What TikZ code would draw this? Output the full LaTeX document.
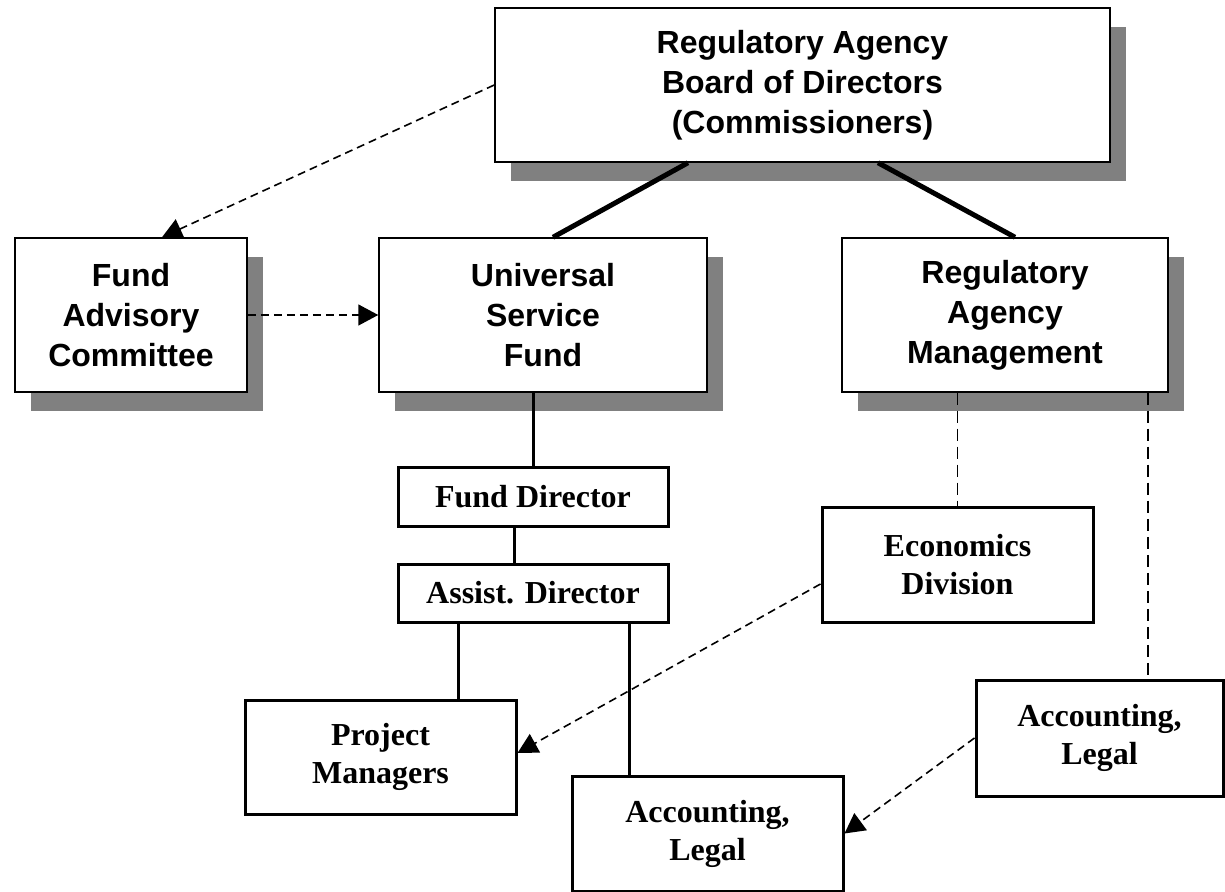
\documentclass[tikz,border=0pt]{standalone}
\usepackage{fontspec}
\setmainfont{Liberation Serif}
\newfontfamily\arialfont{Liberation Sans}
\usetikzlibrary{shapes,arrows.meta,calc,positioning,shadows}
\definecolor{shadowgray}{RGB}{128,128,128}
\tikzstyle{bigbox} = [draw, rectangle, fill=white, line width=0.75pt, align=center, inner sep=0pt, minimum height=77pt, font=\arialfont\bfseries\fontsize{16}{20}\selectfont, drop shadow={shadow xshift=8pt, shadow yshift=-9.5pt, fill=shadowgray, opacity=1}]
\tikzstyle{smallbox} = [draw, rectangle, fill=white, line width=1.5pt, align=center, inner sep=0pt, minimum width=135.5pt, minimum height=57pt, font=\bfseries\fontsize{16}{19}\selectfont]
\tikzstyle{line} = [draw, line width=1.5pt]
\tikzstyle{thickline} = [draw, line width=2.5pt]
\tikzstyle{dashline} = [draw, line width=0.8pt, dash pattern=on 6pt off 3pt]
\tikzstyle{dasharrow} = [draw, line width=0.8pt, dash pattern=on 4pt off 2.5pt, -{Triangle[length=10pt,width=10.5pt]}]

\begin{document}
\begin{tikzpicture}[x=0.5pt, y=-0.5pt]
	\useasboundingbox (0,0) rectangle (1225,892);

	\node [bigbox, minimum width=307.5pt] (board) at (802.5,85) {Regulatory Agency\\Board of Directors\\(Commissioners)};
	\node [bigbox, minimum width=116pt] (fac) at (131,315) {Fund\\Advisory\\Committee};
	\node [bigbox, minimum width=164pt] (usf) at (543,315) {Universal\\Service\\Fund};
	\node [bigbox, minimum width=163pt] (ram) at (1005,315) {Regulatory\\Agency\\Management};

	\node [smallbox, minimum width=135pt, minimum height=29pt] (fd) at (533,497) {Fund Director};
	\node [smallbox, minimum width=135pt, minimum height=29pt, below of=fd, node distance=48pt] (ad) {Assist. Director};
	\node [smallbox] (econ) at (957.5,565) {Economics\\Division};
	\node [smallbox] (pm) at (380.5,757) {Project\\Managers};
	\node [smallbox, minimum height=57.5pt] (acc1) at (707.5,833.5) {Accounting,\\Legal};
	\node [smallbox, minimum width=123.5pt, minimum height=58pt] (acc2) at (1099.5,738) {Accounting,\\Legal};

	% board to the two units
	\path [thickline] ($(board.south)+(-114.5,0)$) -- ($(usf.north)+(10,0)$);
	\path [thickline] ($(board.south)+(75.5,0)$) -- ($(ram.north)+(10,0)$);

	% advisory links
	\path [dasharrow] (board.west) -- ($(fac.north)+(31,0)$);
	\path [dasharrow] (fac.east) -- (usf.west);

	% fund staff
	\path [line] (fd.north |- usf.south) -- (fd.north);
	\path [line] ($(fd.south)+(-19,0)$) -- ($(ad.north)+(-19,0)$);
	\path [line] ($(ad.south)+(-75,0)$) coordinate (pmtop) -- (pmtop |- pm.north);
	\path [line] ($(ad.south)+(96,0)$) coordinate (acctop) -- (acctop |- acc1.north);

	% agency staff
	\path [dashline] (econ.north |- ram.south) -- (econ.north);
	\path [dashline] ($(ram.south)+(143,0)$) coordinate (acc2top) -- (acc2top |- acc2.north);
	\path [dasharrow] ($(econ.west)+(0,19)$) -- ($(pm.east)+(0,-4)$);
	\path [dasharrow] (acc2.west) -- (acc1.east);
\end{tikzpicture}
\end{document}
